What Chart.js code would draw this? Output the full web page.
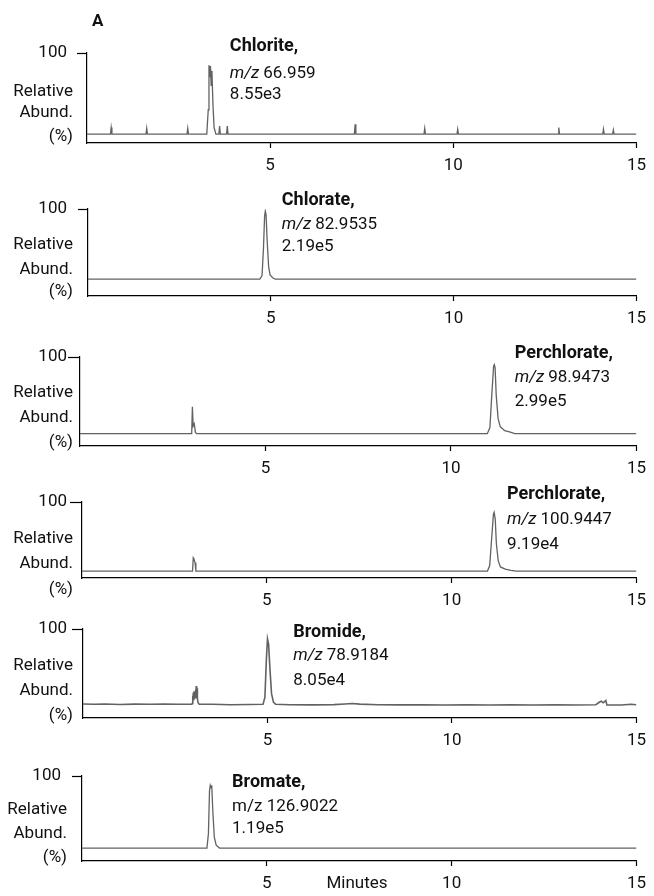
<!DOCTYPE html>
<html>
<head>
<meta charset="utf-8">
<script src="https://cdn.jsdelivr.net/npm/chart.js@4/dist/chart.umd.min.js"></script>
<style>
  html, body { margin: 0; padding: 0; background: #fff; }
  #wrap { position: relative; width: 654px; height: 896px; overflow: hidden; }
  #wrap canvas { position: absolute; left: 0; }
</style>
</head>
<body>
<div id="wrap"></div>
<script>
// retention time (min) and relative abundance (%)
const chloriteTime  = [0, 0.64, 0.66, 0.68, 1.61, 1.63, 1.65, 2.73, 2.75, 2.77, 3.27, 3.31, 3.33, 3.35, 3.37, 3.39, 3.41, 3.44, 3.47, 3.52, 3.6, 3.62, 3.64, 3.81, 3.83, 3.85, 7.3, 7.32, 7.34, 9.2, 9.22, 9.24, 10.1, 10.12, 10.14, 12.86, 12.88, 12.9, 14.08, 14.1, 14.12, 14.35, 14.37, 14.39, 15];
const chloriteAbund = [0, 0, 8, 0, 0, 7, 0, 0, 7, 0, 0, 30, 85, 70, 84, 60, 78, 35, 8, 0, 0, 10, 0, 0, 10, 0, 0, 12, 0, 0, 7, 0, 0, 6, 0, 0, 8, 0, 0, 6, 0, 0, 5, 0, 0];

const chlorateTime  = [0, 4.7, 4.76, 4.8, 4.83, 4.85, 4.87, 4.9, 4.94, 4.98, 5.05, 5.12, 15];
const chlorateAbund = [0, 0, 5, 45, 90, 97, 92, 55, 18, 6, 2, 0, 0];

const perchlorate99Time  = [0, 2.98, 3.01, 3.03, 3.05, 3.08, 3.11, 3.14, 10.98, 11.05, 11.1, 11.15, 11.17, 11.19, 11.22, 11.27, 11.33, 11.45, 11.6, 11.72, 15];
const perchlorate99Abund = [0, 0, 0, 35, 10, 13, 2, 0, 0, 8, 50, 88, 90, 86, 50, 20, 9, 4, 2, 0, 0];

const perchlorate101Time  = [0, 2.99, 3.01, 3.03, 3.06, 3.08, 10.97, 11.03, 11.08, 11.13, 11.15, 11.18, 11.21, 11.26, 11.32, 11.45, 11.6, 11.75, 15];
const perchlorate101Abund = [0, 0, 19, 17, 12, 0, 0, 8, 45, 82, 85, 75, 40, 15, 6, 3, 1, 0, 0];

const bromideTime  = [0, 0.3, 0.6, 1.0, 1.4, 1.8, 2.2, 2.6, 2.95, 2.96, 2.97, 2.98, 2.99, 3.0, 3.01, 3.02, 3.03, 3.04, 3.05, 3.06, 3.07, 3.08, 3.09, 3.1, 3.12, 3.15, 3.5, 4.0, 4.5, 4.88, 4.93, 4.97, 5.0, 5.03, 5.07, 5.11, 5.16, 5.22, 5.6, 6.2, 6.8, 7.1, 7.3, 7.5, 8.0, 8.6, 9.2, 9.8, 10.4, 11.0, 11.6, 12.2, 12.8, 13.4, 13.9, 14.0, 14.05, 14.1, 14.17, 14.2, 14.3, 14.6, 14.85, 15];
const bromideAbund = [1.5, 1, 1.5, 0.8, 1.2, 1, 1.4, 1, 1, 2, 12, 4, 16, 6, 18, 8, 15, 10, 20, 12, 25, 14, 22, 8, 3, 1, 1, 0.5, 0.8, 1, 10, 60, 87, 80, 45, 15, 4, 1, 0.5, 0.3, 0.6, 1.5, 2, 1.2, 0.5, 0.2, 0.5, 0, 0.3, 0, 0.2, 0, 0.3, 0, 0.5, 4, 5, 3, 6, 0, 0, 0, 1, 0.5];

const bromateTime  = [0, 3.38, 3.42, 3.45, 3.47, 3.49, 3.51, 3.54, 3.58, 3.63, 3.72, 15];
const bromateAbund = [0, 0, 20, 80, 87, 84, 87, 50, 15, 4, 0, 0];

const xTicks = [5, 10, 15];
const yTicks = [100];

const fontFamily = 'Roboto, "Liberation Sans", Arial, sans-serif';
const fontSize = 17;
const traceColor = '#626262';

// one entry per stacked panel
const panels = [
    { time: chloriteTime, abund: chloriteAbund, name: 'Chlorite,', mz: '66.959', mzItalic: true, area: '8.55e3',
      areaTop: 53, areaBottom: 143, left: 87, right: 645, yMin: -11, tickLen: 10, tickPad: 10,
      annX: 3.9, annY: [-2, 25, 46], labelRight: 73, labelY: [-51, -30, -6] },
    { time: chlorateTime, abund: chlorateAbund, name: 'Chlorate,', mz: '82.9535', mzItalic: true, area: '2.19e5',
      areaTop: 209, areaBottom: 296, left: 88, right: 646, yMin: -24, tickLen: 10, tickPad: 11,
      annX: 5.3, annY: [-4, 20, 42], labelRight: 73, labelY: [-51, -26, -4] },
    { time: perchlorate99Time, abund: perchlorate99Abund, name: 'Perchlorate,', mz: '98.9473', mzItalic: true, area: '2.99e5',
      areaTop: 357, areaBottom: 446, left: 80, right: 638, yMin: -16, tickLen: 12, tickPad: 1,
      annX: 11.72, annY: [1, 25, 49], labelRight: 73, labelY: [-53, -28, -3] },
    { time: perchlorate101Time, abund: perchlorate101Abund, name: 'Perchlorate,', mz: '100.9447', mzItalic: true, area: '9.19e4',
      areaTop: 502, areaBottom: 578, left: 82, right: 640, yMin: -10, tickLen: 12, tickPad: 3,
      annX: 11.5, annY: [-3, 22, 47], labelRight: 73, labelY: [-39, -14, 12] },
    { time: bromideTime, abund: bromideAbund, name: 'Bromide,', mz: '78.9184', mzItalic: true, area: '8.05e4',
      areaTop: 629, areaBottom: 718, left: 83, right: 641, yMin: -17, tickLen: 11, tickPad: 5,
      annX: 5.7, annY: [8, 31, 56], labelRight: 73, labelY: [-52, -27, -2], lineWidth: 1.6 },
    { time: bromateTime, abund: bromateAbund, name: 'Bromate,', mz: '126.9022', mzItalic: false, area: '1.19e5',
      areaTop: 776, areaBottom: 861, left: 82, right: 640, yMin: -18, tickLen: 10, tickPad: 11,
      annX: 4.06, annY: [11, 35, 57], labelRight: 67, labelY: [-51, -27, -3], minutes: true }
];

const textPlugin = {
    id: 'panelText',
    afterDraw(chart, args, opts) {
        const p = opts.panel;
        const ctx = chart.ctx;
        const area = chart.chartArea;
        const x = chart.scales.x;
        const regular = fontSize + 'px ' + fontFamily;
        ctx.save();
        ctx.fillStyle = '#111';

        // y axis title, right aligned
        ctx.font = regular;
        ctx.textAlign = 'right';
        ctx.textBaseline = 'middle';
        ['Relative', 'Abund.', '(%)'].forEach((t, i) => {
            ctx.fillText(t, p.labelRight, area.bottom + p.labelY[i]);
        });

        // compound annotation
        const ax = x.getPixelForValue(p.annX);
        ctx.textAlign = 'left';
        ctx.textBaseline = 'alphabetic';
        ctx.font = 'bold ' + (fontSize + 1) + 'px ' + fontFamily;
        ctx.fillText(p.name, ax, area.top + p.annY[0]);
        let mzX = ax;
        if (p.mzItalic) {
            ctx.font = 'italic ' + regular;
            ctx.fillText('m/z', mzX, area.top + p.annY[1]);
            mzX += ctx.measureText('m/z').width + 4;
            ctx.font = regular;
            ctx.fillText(p.mz, mzX, area.top + p.annY[1]);
        } else {
            ctx.font = regular;
            ctx.fillText('m/z ' + p.mz, mzX, area.top + p.annY[1]);
        }
        ctx.fillText(p.area, ax, area.top + p.annY[2]);

        if (p.first) {
            ctx.font = 'bold 17px ' + fontFamily;
            ctx.fillText('A', 92, 26);
        }
        if (p.minutes) {
            ctx.font = regular;
            ctx.textAlign = 'center';
            ctx.textBaseline = 'middle';
            ctx.fillText('Minutes', 357, area.bottom + 23);
        }
        ctx.restore();
    }
};

panels[0].first = true;
const wrap = document.getElementById('wrap');

panels.forEach((p, i) => {
    const canvasTop = p.first ? 0 : p.areaTop - 30;
    const canvasBottom = i === panels.length - 1 ? 896 : p.areaBottom + 32;
    const canvas = document.createElement('canvas');
    canvas.width = 654;
    canvas.height = canvasBottom - canvasTop;
    canvas.style.top = canvasTop + 'px';
    canvas.style.width = '654px';
    canvas.style.height = (canvasBottom - canvasTop) + 'px';
    wrap.appendChild(canvas);

    new Chart(canvas.getContext('2d'), {
        type: 'line',
        data: {
            datasets: [{
                data: p.time.map((t, k) => ({ x: t, y: p.abund[k] })),
                borderColor: traceColor,
                borderWidth: p.lineWidth || 1.3,
                pointRadius: 0,
                tension: 0,
                fill: false
            }]
        },
        options: {
            responsive: false,
            animation: false,
            devicePixelRatio: 1,
            layout: { padding: { left: 0, right: 654 - p.right, top: p.areaTop - canvasTop, bottom: 0 } },
            plugins: {
                legend: { display: false },
                tooltip: { enabled: false },
                panelText: { panel: p }
            },
            scales: {
                x: {
                    type: 'linear',
                    min: 0,
                    max: 15,
                    afterFit: s => { s.height = canvasBottom - p.areaBottom; },
                    afterBuildTicks: s => { s.ticks = xTicks.map(v => ({ value: v })); },
                    grid: { drawOnChartArea: false, drawTicks: true, tickLength: 5, tickColor: '#000', tickWidth: 1.2 },
                    border: { display: true, color: '#000', width: 1.2 },
                    ticks: { color: '#111', font: { family: fontFamily, size: fontSize }, padding: 8, maxRotation: 0 }
                },
                y: {
                    type: 'linear',
                    min: p.yMin,
                    max: 100,
                    afterFit: s => { s.width = p.left; },
                    afterBuildTicks: s => { s.ticks = yTicks.map(v => ({ value: v })); },
                    grid: { drawOnChartArea: false, drawTicks: true, tickLength: p.tickLen, tickColor: '#000', tickWidth: 1.2 },
                    border: { display: true, color: '#000', width: 1.2 },
                    ticks: { color: '#111', font: { family: fontFamily, size: fontSize }, padding: p.tickPad }
                }
            }
        },
        plugins: [textPlugin]
    });
});
</script>
</body>
</html>
